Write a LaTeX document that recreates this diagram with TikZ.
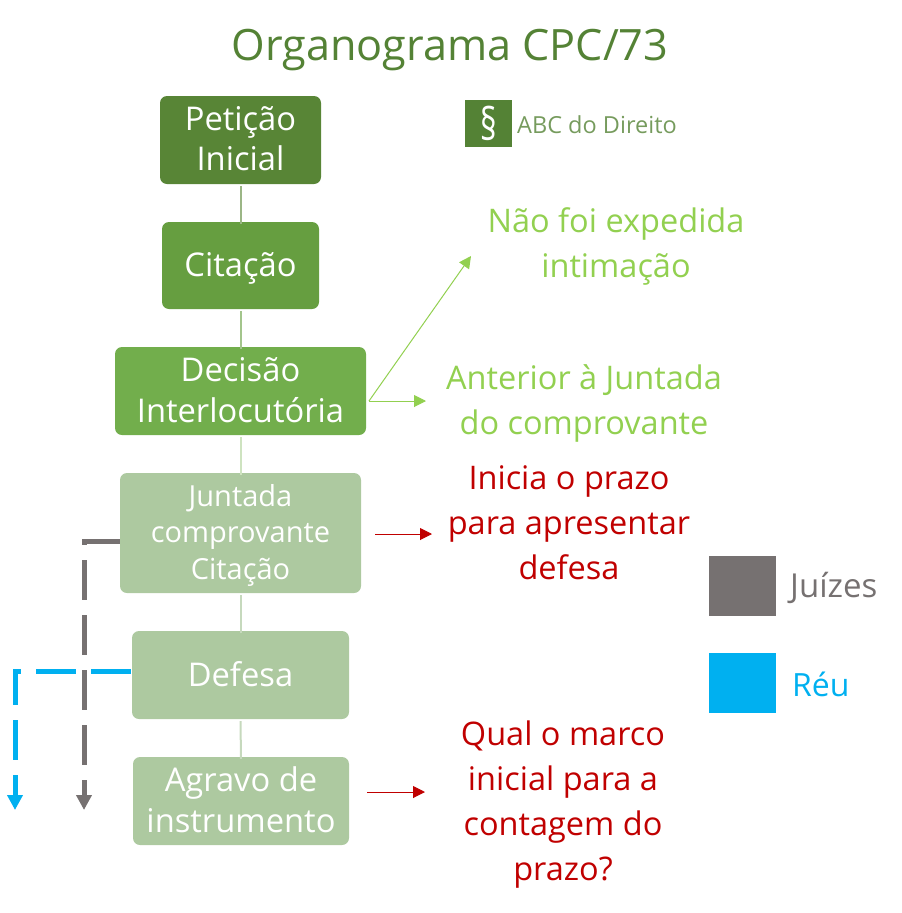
\documentclass[tikz,border=0pt]{standalone}
\usepackage{fontspec}
\setmainfont{Open Sans}
\usetikzlibrary{arrows.meta}
\definecolor{cA}{HTML}{588536}
\definecolor{cB}{HTML}{669E40}
\definecolor{cC}{HTML}{72AE4C}
\definecolor{cD}{HTML}{ADC9A0}
\definecolor{ttl}{HTML}{548235}
\definecolor{lgreen}{HTML}{92D050}
\definecolor{dred}{HTML}{C00000}
\definecolor{blue}{HTML}{00B0F0}
\definecolor{gray}{HTML}{767171}
\newcommand{\rs}[2]{\raisebox{#1}[\height][\depth]{#2}}
\tikzset{
 box/.style={rounded corners=7pt,inner sep=0pt,align=center,text=white,font=\fontsize{32.7}{40.5}\selectfont,minimum height=88pt},
 lbl/.style={inner sep=0pt,align=center,font=\fontsize{32.5}{45}\selectfont},
 link/.style={line width=2pt},
 thin arrow/.style={line width=1pt,-{Triangle[length=12pt,width=12pt]}},
 dash arrow/.style={line width=5pt,dash pattern=on 40pt off 15pt,-{Triangle[length=15pt,width=15pt]}},
}
\begin{document}
\begin{tikzpicture}[x=1pt,y=-1pt]
\useasboundingbox (0,0) rectangle (902,913);
\node[font=\fontsize{43.2}{50}\selectfont,text=ttl,inner sep=0pt] (title) at (450,50) {Organograma CPC/73};
\node[box,fill=cA,minimum width=161pt] (pet) at (240.5,140) {\rs{1.5pt}{Petição}\\\rs{1.5pt}{Inicial}};
\node[box,fill=cB,minimum width=157pt,minimum height=87pt] (cit) at (240.5,265.5) {\rs{-3pt}{Citação}};
\node[box,fill=cC,minimum width=251pt] (dec) at (240.5,391) {\rs{1pt}{Decisão}\\\rs{1pt}{Interlocutória}};
\node[box,fill=cD,minimum width=241pt,minimum height=120pt,font=\fontsize{29}{36.5}\selectfont] (jun) at (240.5,533) {\rs{-2pt}{Juntada}\\\rs{-2pt}{comprovante}\\\rs{-2pt}{Citação}};
\node[box,fill=cD,minimum width=217pt] (def) at (240.5,675) {\rs{1pt}{Defesa}};
\node[box,fill=cD,minimum width=216pt] (agr) at (241,801) {\rs{1.5pt}{Agravo de}\\\rs{1.5pt}{instrumento}};
\draw[link,draw=cA!60!white] (pet.south) ++(0,2) -- ([yshift=-2pt]cit.north);
\draw[link,draw=cB!60!white] (cit.south) ++(0,2) -- ([yshift=-2pt]dec.north);
\draw[link,draw=cC!35!white] (dec.south) ++(0,2) -- ([yshift=-2pt]jun.north);
\draw[link,draw=cD!70!white] (jun.south) ++(0,2) -- ([yshift=-2pt]def.north);
\draw[link,draw=cD!70!white] (def.south) ++(0,2) -- ([yshift=-2pt]agr.north);
% logo
\node[fill=ttl,minimum size=47pt,inner sep=0pt,text=white,font=\fontsize{45}{45}\selectfont] (sec) at (488.5,123.5) {\scalebox{.72}[1]{§}};
\node[right=0pt,inner sep=0pt,text=ttl!80!white,font=\fontsize{23.5}{26}\selectfont] (abc) at (517,125) {ABC do Direito};
% labels
\node[lbl,text=lgreen] (nao) at (616,246) {Não foi expedida\\intimação};
\node[lbl,text=lgreen] (ant) at (584,403) {Anterior à Juntada\\do comprovante};
\node[lbl,text=dred] (ini) at (569,523) {Inicia o prazo\\para apresentar\\defesa};
\node[lbl,text=dred] (qual) at (563,805) {Qual o marco\\inicial para a\\contagem do\\prazo?};
% legend
\node[fill=gray,minimum width=67pt,minimum height=60pt,inner sep=0pt] (lg) at (742.5,586) {};
\node[fill=blue,minimum width=67pt,minimum height=60pt,inner sep=0pt] (lb) at (742.5,683) {};
\node[anchor=west,inner sep=0pt,text=gray,font=\fontsize{33}{36}\selectfont] (ju) at (790,588) {Juízes};
\node[anchor=west,inner sep=0pt,text=blue,font=\fontsize{32}{36}\selectfont] (re) at (792,684) {Réu};
% arrows
\coordinate (g0) at (369,401);
\draw[thin arrow,draw=lgreen] (g0) -- (471,256);
\draw[thin arrow,draw=lgreen] (g0) -- (426,401);
\coordinate (r1) at (375,534);
\coordinate (r1e) at (432,534);
\coordinate (r2) at (367,792);
\coordinate (r2e) at (425,792);
\draw[thin arrow,draw=dred] (r1) -- (r1e);
\draw[thin arrow,draw=dred] (r2) -- (r2e);
\coordinate (gend) at (84,810);
\coordinate (bend) at (15,810);
\draw[dash arrow,draw=gray] (jun.west |- 0,541) -- (84,541) -- (gend);
\draw[dash arrow,draw=blue] ([xshift=-1pt]def.west |- 0,671) -- (15,671) -- (bend);
\end{tikzpicture}
\end{document}
